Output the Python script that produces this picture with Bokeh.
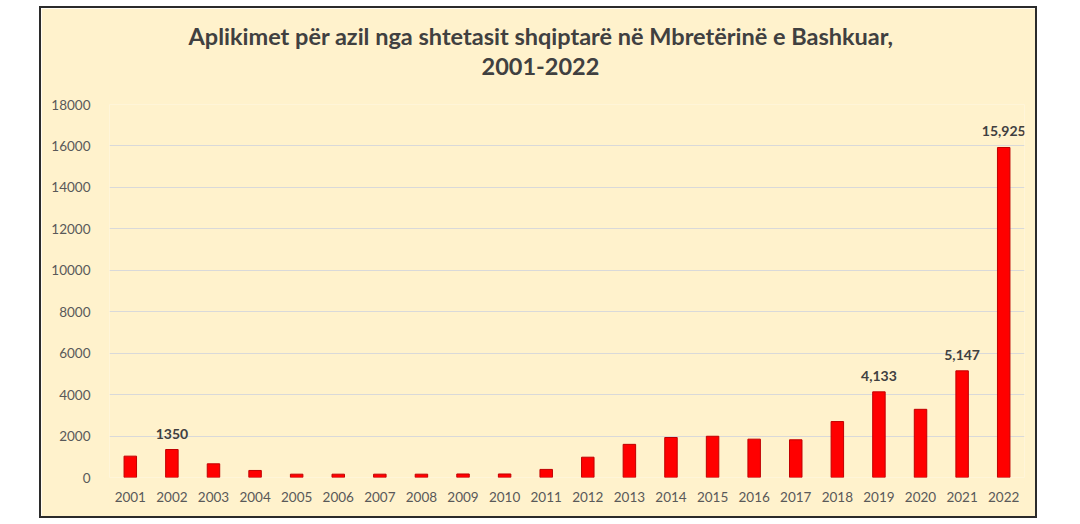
from bokeh.plotting import figure
from bokeh.models import ColumnDataSource, Title, Range1d, FactorRange, Spacer, LabelSet
from bokeh.layouts import row, column
from bokeh.core.properties import value
from bokeh.embed import file_html
from bokeh.resources import INLINE

years = [str(y) for y in range(2001, 2023)]
applications = [1030, 1350, 660, 340, 160, 160, 160, 160, 170, 170, 390, 980,
                1600, 1930, 1990, 1850, 1820, 2700, 4133, 3290, 5147, 15925]
label_years = ["2002", "2019", "2021", "2022"]
label_texts = ["1350", "4,133", "5,147", "15,925"]
y_ticks = list(range(0, 18001, 2000))

title_line1 = "Aplikimet për azil nga shtetasit shqiptarë në Mbretërinë e Bashkuar,"
title_line2 = "2001-2022"

CREAM = "#FFF2CC"
FONT = "Lato"

p = figure(x_range=FactorRange(*years), y_range=Range1d(0, 18000),
           width=998, height=512, output_backend="svg", toolbar_location=None,
           title=None, min_border_left=68, min_border_right=15,
           min_border_top=96, min_border_bottom=43)
p.background_fill_color = CREAM
p.border_fill_color = CREAM
p.outline_line_color = None
p.styles = {"border": "2px solid #2b2b2b", "box-sizing": "border-box"}

src = ColumnDataSource(dict(x=years, y=applications))
p.vbar(x="x", top="y", width=0.3, source=src, fill_color="#FF0000",
       line_color="#C00000", line_width=1)

lab_vals = [applications[years.index(yr)] for yr in label_years]
lsrc = ColumnDataSource(dict(x=label_years, y=lab_vals, t=label_texts))
labels = LabelSet(x="x", y="y", text="t", source=lsrc, text_align="center",
                  text_baseline="bottom", y_offset=11, text_font=value(FONT),
                  text_font_style="bold", text_font_size="14px",
                  text_color="#404040", level="overlay")
p.add_layout(labels)

p.yaxis.ticker = y_ticks
p.ygrid.grid_line_color = "#D9D9D9"
p.ygrid.grid_line_width = 1
p.xgrid.grid_line_color = None
for ax in (p.xaxis[0], p.yaxis[0]):
    ax.axis_line_color = None
    ax.major_tick_line_color = None
    ax.minor_tick_line_color = None
    ax.major_label_text_font = FONT
    ax.major_label_text_font_size = "13.5px"
    ax.major_label_text_color = "#595959"
p.xaxis.major_label_standoff = 8
p.yaxis.major_label_standoff = 13

gap = Title(text=" ", text_font_size="1px", standoff=27)
t2 = Title(text=title_line2, align="left", text_font=FONT, text_font_size="23.5px",
           text_font_style="bold", text_color="#404040", offset=372, standoff=0)
t1 = Title(text=title_line1, align="left", text_font=FONT, text_font_size="23.5px",
           text_font_style="bold", text_color="#404040", offset=79, standoff=12)
p.add_layout(gap, "above")
p.add_layout(t2, "above")
p.add_layout(t1, "above")

layout = column(Spacer(height=6), row(Spacer(width=39), p), spacing=0)
open("out.html", "w").write(file_html(layout, INLINE))
